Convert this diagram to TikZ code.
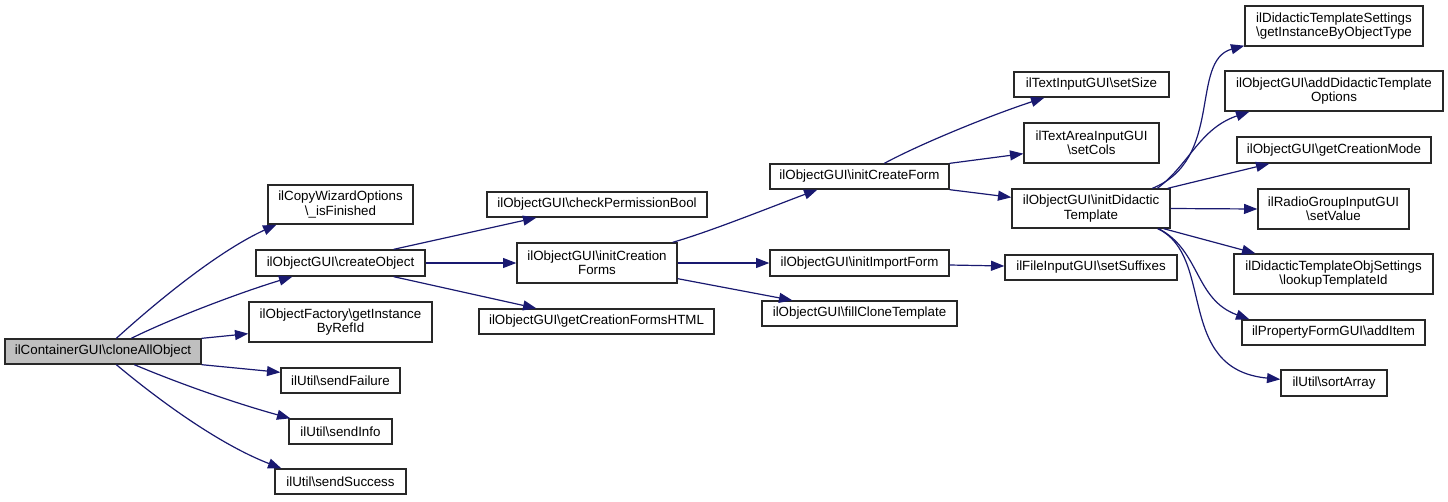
\documentclass[tikz,border=0pt]{standalone}
\usepackage{fontspec}
\setmainfont{Liberation Sans}
\usetikzlibrary{arrows.meta,calc}
\definecolor{edgeblue}{RGB}{25,25,112}
\definecolor{boxline}{RGB}{40,40,40}
\definecolor{rootfill}{RGB}{191,191,191}
\tikzset{
  gbox/.style={draw=boxline,line width=1pt,fill=white,inner sep=0pt,align=center,
    font=\fontsize{10}{10.7}\selectfont},
  rootbox/.style={gbox,fill=rootfill},
  edge/.style={draw=edgeblue,line width=0.9pt,-{Triangle[length=10pt,width=7.5pt]},
    edgeblue},
}
\newcommand\gnode[7][gbox]{\node[#1,minimum width={(#5-#3)*0.75pt},minimum height={(#6-#4)*0.75pt}] (#2) at ({(#3+#5)/2},{(#4+#6)/2}) {#7};}
\begin{document}
\begin{tikzpicture}[x=0.75pt,y=-0.75pt]
\useasboundingbox (0,0) rectangle (1448,501);
% nodes
\gnode[rootbox]{clone}{5}{339}{201}{364}{ilContainerGUI\textbackslash cloneAllObject}
\gnode{cw}{268}{185}{413}{224}{ilCopyWizardOptions\\\textbackslash\_isFinished}
\gnode{co}{256}{250}{425}{276}{ilObjectGUI\textbackslash createObject}
\gnode{of}{249}{302}{432}{342}{ilObjectFactory\textbackslash getInstance\\ByRefId}
\gnode{sf}{281}{368}{400}{393}{ilUtil\textbackslash sendFailure}
\gnode{si}{289}{419}{392}{444}{ilUtil\textbackslash sendInfo}
\gnode{ss}{275}{469}{406}{494}{ilUtil\textbackslash sendSuccess}
\gnode{cpb}{487}{192}{707}{217}{ilObjectGUI\textbackslash checkPermissionBool}
\gnode{icf}{517}{243}{677}{283}{ilObjectGUI\textbackslash initCreation\\Forms}
\gnode{gcf}{479}{309}{714}{334}{ilObjectGUI\textbackslash getCreationFormsHTML}
\gnode{icr}{770}{164}{949}{189}{ilObjectGUI\textbackslash initCreateForm}
\gnode{iif}{770}{250}{949}{276}{ilObjectGUI\textbackslash initImportForm}
\gnode{fct}{762}{301}{957}{326}{ilObjectGUI\textbackslash fillCloneTemplate}
\gnode{sz}{1014}{72}{1169}{97}{ilTextInputGUI\textbackslash setSize}
\gnode{sc}{1024}{123}{1159}{163}{ilTextAreaInputGUI\\\textbackslash setCols}
\gnode{itd}{1012}{189}{1170}{228}{ilObjectGUI\textbackslash initDidactic\\Template}
\gnode{ssf}{1005}{255}{1177}{280}{ilFileInputGUI\textbackslash setSuffixes}
\gnode{gio}{1245}{6}{1423}{46}{ilDidacticTemplateSettings\\\textbackslash getInstanceByObjectType}
\gnode{adt}{1225}{71}{1443}{111}{ilObjectGUI\textbackslash addDidacticTemplate\\Options}
\gnode{gcm}{1237}{137}{1431}{163}{ilObjectGUI\textbackslash getCreationMode}
\gnode{sv}{1258}{189}{1409}{229}{ilRadioGroupInputGUI\\\textbackslash setValue}
\gnode{lti}{1234}{254}{1433}{294}{ilDidacticTemplateObjSettings\\\textbackslash lookupTemplateId}
\gnode{ai}{1242}{320}{1425}{345}{ilPropertyFormGUI\textbackslash addItem}
\gnode{sa}{1281}{370}{1387}{396}{ilUtil\textbackslash sortArray}
% edges from clone
\draw[edge] ($(clone.north west)+(112,0)$) .. controls +(43,-39) and +(-57,26) .. ($(cw.south west)+(9,0)$);
\draw[edge] ($(clone.north west)+(127,0)$) .. controls +(38,-19) and +(-53,16) .. ($(co.south west)+(37,0)$);
\draw[edge] (clone.north east) -- ($(of.south west)+(0,-9)$);
\draw[edge] (clone.south east) -- ($(sf.north west)+(0,5)$);
\draw[edge] ($(clone.south west)+(130,0)$) .. controls +(50,21) and +(-51,-14) .. ($(si.north west)+(2,0)$);
\draw[edge] ($(clone.south west)+(112,0)$) .. controls +(43,36) and +(-62,-24) .. ($(ss.north west)+(7,0)$);
% edges from createObject
\draw[edge] ($(co.north east)+(-32,0)$) -- ($(cpb.south west)+(50,0)$);
\draw[edge] (co.east) -- (icf.west);
\draw[edge] ($(co.south east)+(-32,0)$) -- ($(gcf.north west)+(58,0)$);
% edges from initCreationForms
\draw[edge] ($(icf.north east)+(-5,0)$) .. controls +(38,-11) and +(-48,18) .. ($(icr.south west)+(48,0)$);
\draw[edge] (icf.east) -- (iif.west);
\draw[edge] ($(icf.south east)+(0,-5)$) -- ($(fct.north west)+(31,0)$);
% edges from initCreateForm
\draw[edge] ($(icr.north west)+(115,0)$) .. controls +(35,-19) and +(-55,18) .. ($(sz.south west)+(31,0)$);
\draw[edge] (icr.north east) -- ($(sc.south west)+(0,-10)$);
\draw[edge] (icr.south east) -- ($(itd.north west)+(0,9)$);
% edge from initImportForm
\draw[edge] ($(iif.east)+(0,2)$) -- ($(ssf.west)+(0,-1.5)$);
% edges from initDidacticTemplate
\draw[edge] ($(itd.north west)+(141,0)$) .. controls +(72,-29) and +(-55,15) .. ($(gio.south west)+(0,-1)$);
\draw[edge] ($(itd.north west)+(146,0)$) .. controls +(32,-24) and +(-50,17) .. ($(adt.south west)+(25,0)$);
\draw[edge] ($(itd.north east)+(-3,0)$) -- ($(gcm.south west)+(33,0)$);
\draw[edge] (itd.east) -- (sv.west);
\draw[edge] ($(itd.south east)+(-7,0)$) -- ($(lti.north west)+(22,0)$);
\draw[edge] ($(itd.south east)+(-12,0)$) .. controls +(42,22) and +(-55,-20) .. ($(ai.north west)+(8,0)$);
\draw[edge] ($(itd.south east)+(-13,0)$) .. controls +(58,27) and +(-106,-10) .. ($(sa.north west)+(0,10)$);
\end{tikzpicture}
\end{document}
